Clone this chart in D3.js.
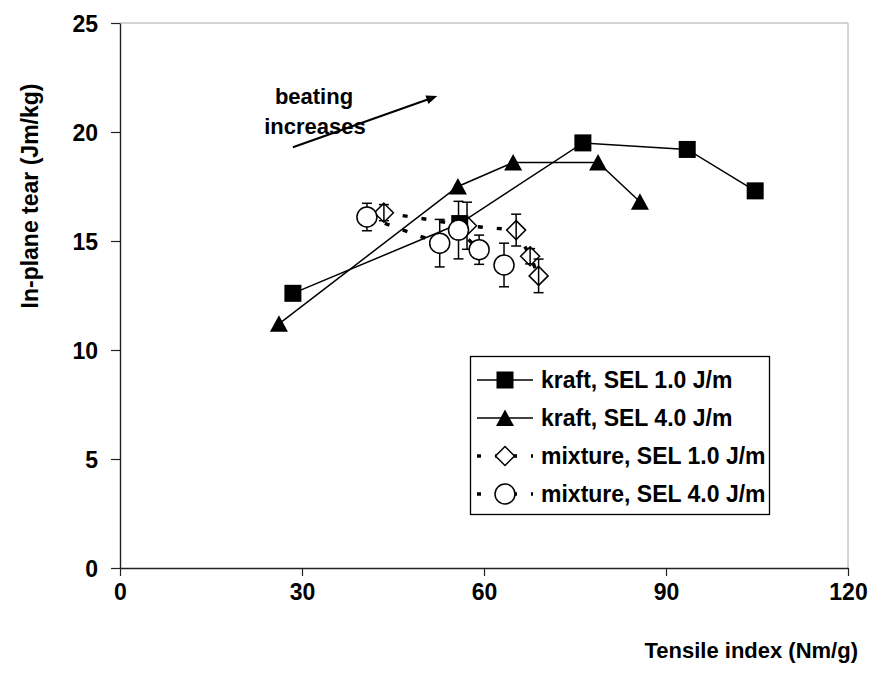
<!DOCTYPE html>
<html>
<head>
<meta charset="utf-8">
<script src="https://cdn.jsdelivr.net/npm/d3@7"></script>
<style>
  html, body { margin: 0; padding: 0; background: #fff; }
  svg text { font-family: "Liberation Sans", Arial, Helvetica, sans-serif; font-weight: bold; fill: #000; }
</style>
</head>
<body>
<svg id="chart" width="872" height="675"></svg>
<script>
// Tensile index (Nm/g) and in-plane tear (Jm/kg) for each pulp series
const kraftTensile1 = [28.5, 56.0, 76.3, 93.5, 104.7];
const kraftTear1    = [12.6, 15.8, 19.5, 19.2, 17.3];

const kraftTensile4 = [26.2, 55.7, 64.8, 78.8, 85.7];
const kraftTear4    = [11.2, 17.5, 18.6, 18.6, 16.8];

const mixTensile1 = [43.5, 57.2, 65.3, 67.6, 69.0];
const mixTear1    = [16.3, 15.7, 15.5, 14.3, 13.4];
const mixErr1     = [0.37, 1.08, 0.73, 0.35, 0.77];

const mixTensile4 = [40.7, 52.7, 55.8, 59.2, 63.3];
const mixTear4    = [16.1, 14.9, 15.5, 14.6, 13.9];
const mixErr4     = [0.63, 1.09, 1.32, 0.67, 1.00];

const xTicks = [0, 30, 60, 90, 120];
const yTicks = [0, 5, 10, 15, 20, 25];

const legendLabels = ["kraft, SEL 1.0 J/m", "kraft, SEL 4.0 J/m",
                      "mixture, SEL 1.0 J/m", "mixture, SEL 4.0 J/m"];

const svg = d3.select("#chart");
const x = d3.scaleLinear().domain([0, 120]).range([120, 848]);
const y = d3.scaleLinear().domain([0, 25]).range([568, 23]);

const zip = (xs, ys, es) => xs.map((v, i) => ({ x: v, y: ys[i], e: es ? es[i] : 0 }));
const kraft1 = zip(kraftTensile1, kraftTear1);
const kraft4 = zip(kraftTensile4, kraftTear4);
const mix1 = zip(mixTensile1, mixTear1, mixErr1);
const mix4 = zip(mixTensile4, mixTear4, mixErr4);

// plot-area frame (top and right)
svg.append("path")
  .attr("d", `M${x(0)},${y(25)}H${x(120)}V${y(0)}`)
  .attr("fill", "none").attr("stroke", "#a8a8a8").attr("stroke-width", 1);

// axes
const xAxis = svg.append("g").attr("transform", `translate(0,${y(0)})`)
  .call(d3.axisBottom(x).tickValues(xTicks).tickSize(8).tickSizeOuter(0).tickPadding(8));
const yAxis = svg.append("g").attr("transform", `translate(${x(0)},0)`)
  .call(d3.axisLeft(y).tickValues(yTicks).tickSize(9).tickSizeOuter(0).tickPadding(13));
[xAxis, yAxis].forEach(g => {
  g.selectAll("path.domain").attr("stroke", "#222").attr("stroke-width", 1.4);
  g.selectAll(".tick line").attr("stroke", "#222").attr("stroke-width", 1.2);
  g.selectAll(".tick text").attr("font-size", 23).attr("font-family", null);
});
xAxis.selectAll(".tick text").attr("dy", "0.71em");
yAxis.selectAll(".tick text").attr("dy", "0.35em");

// axis titles
svg.append("text").attr("x", 858).attr("y", 658).attr("text-anchor", "end")
  .attr("font-size", 22).text("Tensile index (Nm/g)");
svg.append("text").attr("transform", `translate(38,196) rotate(-90)`)
  .attr("text-anchor", "middle").attr("font-size", 23).text("In-plane tear (Jm/kg)");

// annotation
svg.append("text").attr("x", 314).attr("y", 104).attr("text-anchor", "middle")
  .attr("font-size", 22).text("beating");
svg.append("text").attr("x", 315).attr("y", 134).attr("text-anchor", "middle")
  .attr("font-size", 22).text("increases");
const ax0 = [x(28.5), y(19.3)], ax1 = [x(52.3), y(21.65)];
const ang = Math.atan2(ax1[1] - ax0[1], ax1[0] - ax0[0]);
svg.append("line").attr("x1", ax0[0]).attr("y1", ax0[1])
  .attr("x2", ax1[0] - 8 * Math.cos(ang)).attr("y2", ax1[1] - 8 * Math.sin(ang))
  .attr("stroke", "#000").attr("stroke-width", 2);
svg.append("path").attr("d", "M0,0L-11,-4.5L-11,4.5Z")
  .attr("transform", `translate(${ax1[0]},${ax1[1]}) rotate(${ang * 180 / Math.PI})`)
  .attr("fill", "#000");

// marker shapes
const shapes = {
  square:   g => g.append("rect").attr("x", -8.5).attr("y", -8.5).attr("width", 17).attr("height", 17)
                  .attr("fill", "#000"),
  triangle: g => g.append("path").attr("d", "M0,-8.5L9,8L-9,8Z").attr("fill", "#000"),
  diamond:  g => g.append("path").attr("d", "M0,-9.5L9.5,0L0,9.5L-9.5,0Z")
                  .attr("fill", "#fff").attr("stroke", "#000").attr("stroke-width", 1.5),
  circle:   g => g.append("circle").attr("r", 10)
                  .attr("fill", "#fff").attr("stroke", "#000").attr("stroke-width", 1.5)
};

const line = d3.line().x(d => x(d.x)).y(d => y(d.y));
const solid = { stroke: "#000", width: 1.5, dash: null };
const dashed = { stroke: "#000", width: 3.5, dash: "5,14" };

function errorBars(g, data) {
  const eb = g.append("g").attr("stroke", "#000").attr("stroke-width", 1.5);
  data.forEach(d => {
    const cx = x(d.x), t = y(d.y + d.e), b = y(d.y - d.e);
    eb.append("line").attr("x1", cx).attr("x2", cx).attr("y1", t).attr("y2", b);
    eb.append("line").attr("x1", cx - 5).attr("x2", cx + 5).attr("y1", t).attr("y2", t);
    eb.append("line").attr("x1", cx - 5).attr("x2", cx + 5).attr("y1", b).attr("y2", b);
  });
}

function series(data, style, shape, bars, barsOnTop) {
  const g = svg.append("g");
  g.append("path").attr("d", line(data)).attr("fill", "none")
    .attr("stroke", style.stroke).attr("stroke-width", style.width)
    .attr("stroke-dasharray", style.dash);
  if (bars && !barsOnTop) errorBars(g, data);
  data.forEach(d => shapes[shape](g.append("g").attr("transform", `translate(${x(d.x)},${y(d.y)})`)));
  if (bars && barsOnTop) errorBars(g, data);
}

series(mix1, dashed, "diamond", true, true);
series(kraft1, solid, "square", false);
series(kraft4, solid, "triangle", false);
series(mix4, dashed, "circle", true, false);

// legend
const lg = svg.append("g");
lg.append("rect").attr("x", 470.5).attr("y", 356.5).attr("width", 299).attr("height", 158)
  .attr("fill", "#fff").attr("stroke", "#000").attr("stroke-width", 1.3);
const legendStyles = [[solid, "square"], [solid, "triangle"], [dashed, "diamond"], [dashed, "circle"]];
legendLabels.forEach((lab, i) => {
  const cy = 380 + i * 38;
  const [st, sh] = legendStyles[i];
  lg.append("line").attr("x1", 477).attr("x2", 533).attr("y1", cy).attr("y2", cy)
    .attr("stroke", st.stroke).attr("stroke-width", st.width)
    .attr("stroke-dasharray", st.dash ? "4,14" : null);
  shapes[sh](lg.append("g").attr("transform", `translate(505,${cy})`));
  lg.append("text").attr("x", 541).attr("y", cy).attr("dy", "0.36em")
    .attr("font-size", 23).text(lab);
});
</script>
</body>
</html>
